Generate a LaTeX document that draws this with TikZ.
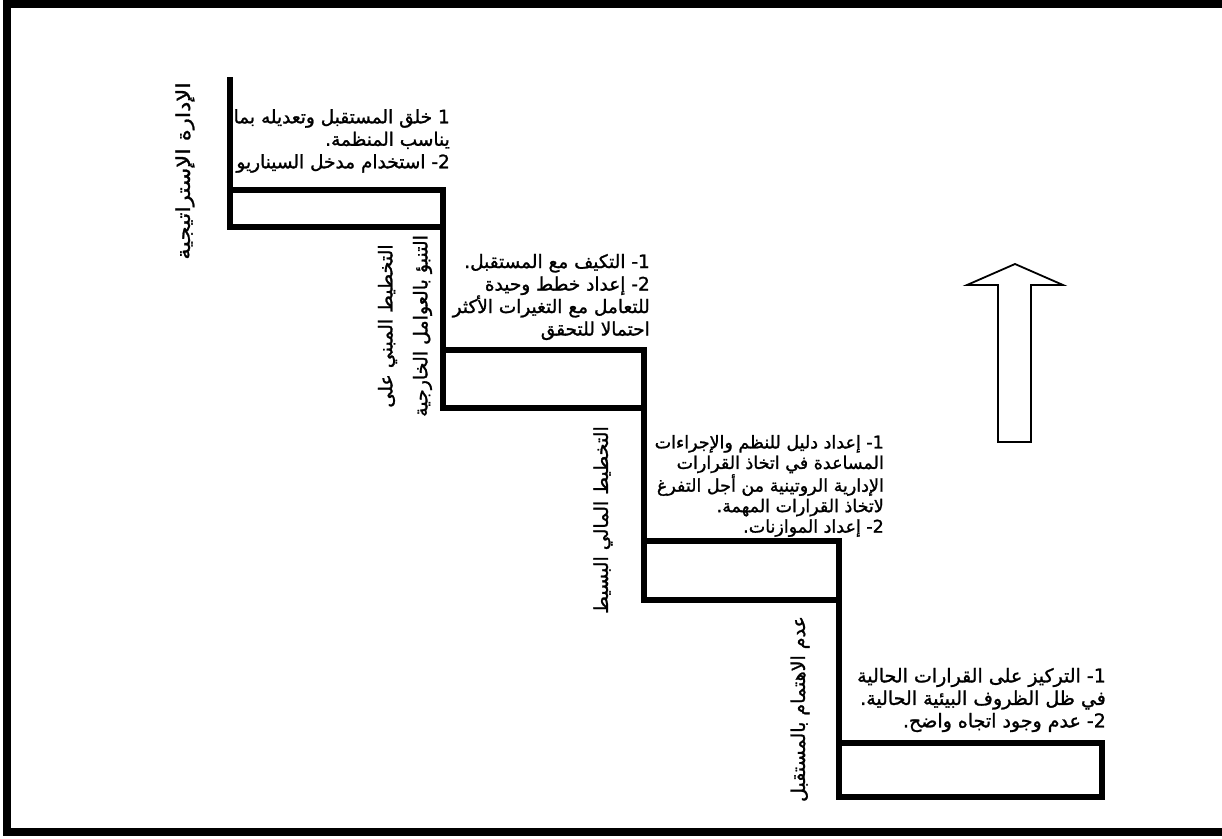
\documentclass[tikz,border=0pt]{standalone}
\usepackage{graphicx}
\usepackage{fontspec}
\TeXXeTstate=1
\newfontfamily\arabicfont[Script=Arabic,RawFeature={embolden=1.3}]{DejaVu Sans}
\begin{document}
\begin{tikzpicture}[x=1pt,y=-1pt,
  frame/.style={line width=8pt,line join=miter},
  stair/.style={line width=5.5pt,line join=miter,line cap=rect},
  blocktext/.style={font=\arabicfont\fontsize{18.5}{22.5}\selectfont,align=right,inner sep=0pt,anchor=east},
  sidelabel/.style={font=\arabicfont\fontsize{19}{35}\selectfont,align=center,inner sep=0pt,rotate=90},
  bigarrow/.style={line width=1.8pt,line join=miter}]
\useasboundingbox (0,0) rectangle (1222,838);
% frame
\draw[frame] (1222,3.5) -- (7,3.5) -- (7,832) -- (1222,832);
% staircase
\draw[stair] (230,80) -- (230,227) -- (443,227);
\draw[stair] (230,190) -- (443,190) -- (443,408) -- (644,408);
\draw[stair] (443,350) -- (644,350) -- (644,600) -- (839,600);
\draw[stair] (644,541) -- (839,541) -- (839,797) -- (1102,797) -- (1102,743) -- (839,743);
% arrow
\draw[bigarrow] (1015,264) -- (1063,285) -- (1031,285) -- (1031,442) -- (998,442) -- (998,285) -- (967,285) -- cycle;
% side labels
\node[sidelabel] (l1) at (185,171) {\scalebox{1.2}[1]{\beginR الإدارة الإستراتيجية\endR}};
\node[sidelabel] (l2) at (405,326) {\beginR التخطيط المبني على\endR\\\beginR التنبؤ بالعوامل الخارجية\endR};
\node[sidelabel] (l3) at (603,520) {\beginR التخطيط المالي البسيط\endR};
\node[sidelabel] (l4) at (800,709) {\beginR عدم الاهتمام بالمستقبل\endR};
% text blocks
\node[blocktext] (t1) at (450,141) {\beginR 1 خلق المستقبل وتعديله بما\endR\\\beginR يناسب المنظمة.\endR\\\beginR 2\kern0pt- استخدام مدخل السيناريو\endR};
\node[blocktext] (t2) at (650,297) {\beginR 1\kern0pt- التكيف مع المستقبل.\endR\\\beginR 2\kern0pt- إعداد خطط وحيدة\endR\\\beginR للتعامل مع التغيرات الأكثر\endR\\\beginR احتمالا للتحقق\endR};
\node[blocktext,font=\arabicfont\fontsize{17.5}{20.5}\selectfont] (t3) at (884,486) {\beginR 1\kern0pt- إعداد دليل للنظم والإجراءات\endR\\\beginR المساعدة في اتخاذ القرارات\endR\\\beginR الإدارية الروتينية من أجل التفرغ\endR\\\beginR لاتخاذ القرارات المهمة.\endR\\\beginR 2\kern0pt- إعداد الموازنات.\endR};
\node[blocktext,font=\arabicfont\fontsize{19}{22.5}\selectfont] (t4) at (1106,700) {\beginR 1\kern0pt- التركيز على القرارات الحالية\endR\\\beginR في ظل الظروف البيئية الحالية.\endR\\\beginR 2\kern0pt- عدم وجود اتجاه واضح.\endR};
\end{tikzpicture}
\end{document}
